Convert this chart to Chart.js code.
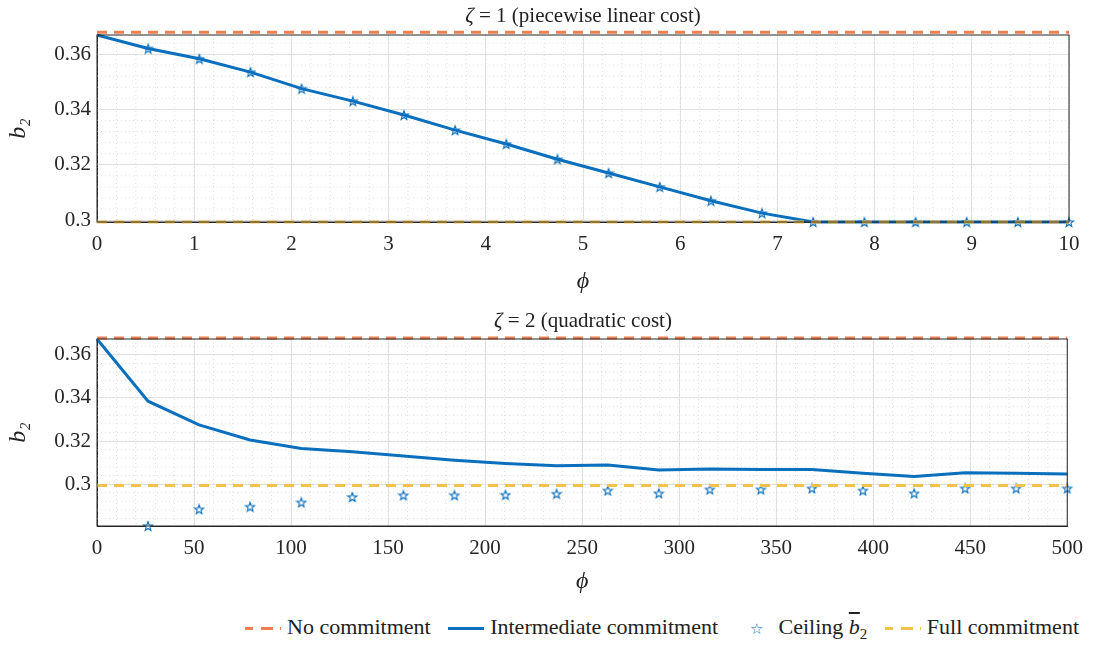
<!DOCTYPE html>
<html><head><meta charset="utf-8">
<script src="https://cdn.jsdelivr.net/npm/chart.js@4.4.1/dist/chart.umd.min.js"></script>
<style>
body{margin:0;background:#fff;font-family:"Liberation Serif",serif;}
.wrap{position:absolute;left:0;width:1093px;height:300px;}
.ttl{position:absolute;left:97px;width:972px;text-align:center;font-size:21px;color:#222;}
#legend{position:absolute;top:614px;right:14px;text-align:right;font-size:22px;color:#222;white-space:nowrap;}
#legend span{margin-left:6px;}
.sw{display:inline-block;width:36px;height:0;vertical-align:middle;margin-right:6px;}
</style></head><body>
<div class="wrap" style="top:0"><canvas id="c1" width="1093" height="300"></canvas></div>
<div class="ttl" style="top:3px"><i>ζ</i> = 1 (piecewise linear cost)</div>
<div class="wrap" style="top:300px"><canvas id="c2" width="1093" height="300"></canvas></div>
<div class="ttl" style="top:308px"><i>ζ</i> = 2 (quadratic cost)</div>
<div id="legend">
<span><span class="sw" style="border-top:3px dashed #EE7F50;border-image:repeating-linear-gradient(90deg,#EE7F50 0 10px,transparent 10px 16px) 3"></span>No commitment</span>
<span><span class="sw" style="border-top:3px solid #0A6FBD"></span>Intermediate commitment</span>
<span><span style="color:#0A6FBD;font-size:15px;margin:0 16px 0 20px">☆</span>Ceiling <i style="text-decoration:overline">b</i><sub style="font-size:15px">2</sub></span>
<span><span class="sw" style="border-top:3px dashed #F2C14E;border-image:repeating-linear-gradient(90deg,#F2C14E 0 10px,transparent 10px 16px) 3"></span>Full commitment</span>
</div>
<script>
// top panel
const phi1 = [0,0.526,1.053,1.579,2.105,2.632,3.158,3.684,4.211,4.737,5.263,5.789,6.316,6.842,7.368,7.895,8.421,8.947,9.474,10];
const inter1 = [0.3669,0.3620,0.3583,0.3535,0.3475,0.3430,0.3380,0.3325,0.3275,0.3220,0.3170,0.3120,0.3070,0.3025,0.2993,0.2993,0.2993,0.2993,0.2993,0.2993];
const ceil1 = inter1.slice(1);
const phiC1 = phi1.slice(1);
// bottom panel
const phi2 = [0,26.3,52.6,78.9,105.3,131.6,157.9,184.2,210.5,236.8,263.2,289.5,315.8,342.1,368.4,394.7,421.1,447.4,473.7,500];
const inter2 = [0.3674,0.3385,0.3275,0.3205,0.3165,0.3150,0.3130,0.3110,0.3095,0.3085,0.3088,0.3065,0.3070,0.3067,0.3067,0.3050,0.3035,0.3053,0.3050,0.3047];
const ceil2 = [0.2805,0.2883,0.2895,0.2915,0.2940,0.2948,0.2948,0.2950,0.2955,0.2970,0.2957,0.2975,0.2975,0.2980,0.2970,0.2957,0.2980,0.2980,0.2980];
const phiC2 = phi2.slice(1);
const noCommit = 0.3679, fullCommit = 0.2993;

const star = document.createElement('canvas');
star.width = 12; star.height = 12;
(function(){
  const g = star.getContext('2d');
  g.beginPath();
  for (let i = 0; i < 10; i++) {
    const r = i % 2 ? 2 : 4.8, a = -Math.PI/2 + i*Math.PI/5;
    g.lineTo(6 + r*Math.cos(a), 6.5 + r*Math.sin(a));
  }
  g.closePath(); g.fillStyle = '#fff'; g.fill(); g.strokeStyle = '#0A6FBD'; g.lineWidth = 1.1; g.stroke();
})();

const frame = {
  id: 'frame',
  beforeDatasetsDraw(ch, a, o) {
    const {ctx, chartArea: ca, scales: {x, y}} = ch;
    ctx.save(); ctx.strokeStyle = '#d8d8d8'; ctx.lineWidth = 0.8; ctx.setLineDash([1,3]);
    for (let v = x.min; v <= x.max + 1e-9; v += o.mx) {
      const p = x.getPixelForValue(v); ctx.beginPath(); ctx.moveTo(p, ca.top); ctx.lineTo(p, ca.bottom); ctx.stroke();
    }
    for (let v = Math.ceil(y.min/o.my)*o.my; v <= y.max; v += o.my) {
      const p = y.getPixelForValue(v); ctx.beginPath(); ctx.moveTo(ca.left, p); ctx.lineTo(ca.right, p); ctx.stroke();
    }
    ctx.restore();
  },
  afterDraw(ch) {
    const {ctx, chartArea: ca} = ch;
    ctx.save(); ctx.strokeStyle = '#262626'; ctx.lineWidth = 1;
    ctx.strokeRect(ca.left, ca.top, ca.right - ca.left, ca.bottom - ca.top); ctx.restore();
  }
};

function make(id, phi, inter, phiC, ceil, xmax, xstep, ymin, ymax, padTop, xh, mx) {
  const lo = phi.map(p => ({x: p, y: noCommit}));
  const fu = phi.map(p => ({x: p, y: fullCommit}));
  new Chart(id, {
    type: 'line',
    data: { datasets: [
      {data: lo, borderColor: '#EE7F50', borderWidth: 3, borderDash: [10,7], pointRadius: 0},
      {data: fu, borderColor: '#F2C14E', borderWidth: 3, borderDash: [10,7], pointRadius: 0},
      {data: phi.map((p,i) => ({x: p, y: inter[i]})), borderColor: '#0A6FBD', borderWidth: 3, pointRadius: 0},
      {data: phiC.map((p,i) => ({x: p, y: ceil[i]})), showLine: false, pointStyle: star, pointRadius: 6}
    ]},
    options: {
      responsive: false, animation: false, clip: false,
      layout: {padding: {top: padTop, right: 24, left: 0, bottom: 0}},
      plugins: {legend: {display: false}, tooltip: {enabled: false}, frame: {mx: mx, my: 0.004}},
      scales: {
        x: {type: 'linear', min: 0, max: xmax, ticks: {stepSize: xstep, padding: 10, color: '#262626', font: {family: 'Liberation Serif', size: 21}},
            grid: {color: '#e3e3e3', drawTicks: false}, border: {color: '#262626'},
            title: {display: true, text: 'ϕ', padding: {top: 2}, font: {family: 'Liberation Serif', size: 24, style: 'italic'}, color: '#222'},
            afterFit: s => { s.height = xh; }},
        y: {min: ymin, max: ymax, afterBuildTicks: s => { s.ticks = [0.3,0.32,0.34,0.36].map(v => ({value: v})); },
            ticks: {padding: 6, color: '#262626', font: {family: 'Liberation Serif', size: 21}, callback: v => String(+v.toFixed(2))},
            grid: {color: '#e3e3e3', drawTicks: false}, border: {color: '#262626'},
            title: {display: true, text: 'b₂', font: {family: 'Liberation Serif', size: 24, style: 'italic'}, color: '#222'},
            afterFit: s => { s.width = 97; }}
      }
    },
    plugins: [frame]
  });
}
make('c1', phi1, inter1, phiC1, ceil1, 10, 1, 0.2993, 0.3669, 35, 78, 0.2);
make('c2', phi2, inter2, phiC2, ceil2, 500, 50, 0.2805, 0.3674, 39, 74, 10);
</script></body></html>
